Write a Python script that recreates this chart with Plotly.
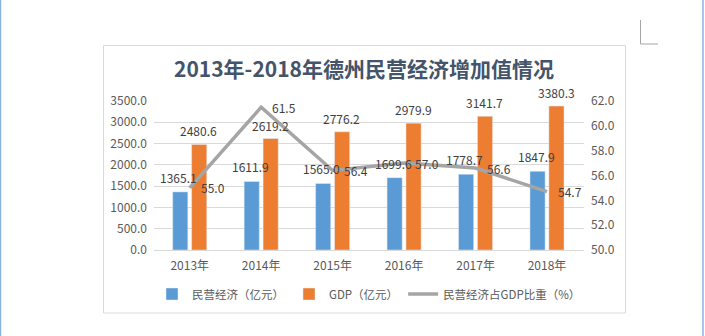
import plotly.graph_objects as go

categories = ["2013年", "2014年", "2015年", "2016年", "2017年", "2018年"]
private_econ = [1365.1, 1611.9, 1565.0, 1699.6, 1778.7, 1847.9]
gdp = [2480.6, 2619.2, 2776.2, 2979.9, 3141.7, 3380.3]
share = [55.0, 61.5, 56.4, 57.0, 56.6, 54.7]

names = ["民营经济（亿元）", "GDP（亿元）", "民营经济占GDP比重（%）"]
title_text = "2013年-2018年德州民营经济增加值情况"

FIG_W, FIG_H = 705, 336
L, R, T, B = 154, 584, 101, 250
PW, PH = R - L, B - T


def px(x):
    return (x - L) / PW


def py(y):
    return (B - y) / PH


FONT = "Noto Sans CJK SC"
TXT = "#404040"
AX = "#595959"

fig = go.Figure()
fig.add_trace(go.Bar(
    x=categories, y=private_econ, name=names[0],
    marker=dict(color="#5B9BD5"),
))
fig.add_trace(go.Bar(
    x=categories, y=gdp, name=names[1],
    marker=dict(color="#ED7D31"),
))
fig.add_trace(go.Scatter(
    x=categories, y=share, name=names[2], yaxis="y2",
    mode="lines",
    line=dict(color="#A5A5A5", width=3.5),
    cliponaxis=False,
))

# data labels drawn on top of all marks
annotations = []
label_font = dict(family=FONT, size=12, color=TXT)
for c, v in zip(categories, private_econ):
    annotations.append(dict(x=c, y=v, xref="x", yref="y", text=f"{v:.1f}",
                            showarrow=False, xanchor="center", yanchor="bottom",
                            xshift=-11, yshift=4, font=label_font))
for c, v in zip(categories, gdp):
    annotations.append(dict(x=c, y=v, xref="x", yref="y", text=f"{v:.1f}",
                            showarrow=False, xanchor="center", yanchor="bottom",
                            xshift=9, yshift=3, font=label_font))
for c, v in zip(categories, share):
    annotations.append(dict(x=c, y=v, xref="x", yref="y2", text=f"{v:.1f}",
                            showarrow=False, xanchor="left", yanchor="middle",
                            xshift=9, yshift=0, font=label_font))

shapes = [
    # chart box
    dict(type="rect", xref="paper", yref="paper",
         x0=px(103.5), x1=px(625.5), y0=py(313), y1=py(45.5),
         line=dict(color="#D9D9D9", width=1), layer="below"),
    # page borders
    dict(type="line", xref="paper", yref="paper",
         x0=px(0.5), x1=px(0.5), y0=py(0), y1=py(336),
         line=dict(color="#8DB3E2", width=1.5)),
    dict(type="line", xref="paper", yref="paper",
         x0=px(703), x1=px(703), y0=py(0), y1=py(336),
         line=dict(color="#8DB3E2", width=1.5)),
    # corner mark
    dict(type="line", xref="paper", yref="paper",
         x0=px(640.5), x1=px(640.5), y0=py(20), y1=py(44),
         line=dict(color="#A6A6A6", width=1)),
    dict(type="line", xref="paper", yref="paper",
         x0=px(640.5), x1=px(658), y0=py(44), y1=py(44),
         line=dict(color="#A6A6A6", width=1)),
]

fig.update_layout(
    width=FIG_W, height=FIG_H,
    margin=dict(l=L, r=FIG_W - R, t=T, b=FIG_H - B, pad=0),
    paper_bgcolor="white", plot_bgcolor="white",
    font=dict(family=FONT, size=12, color=AX),
    title=dict(text="<b>" + title_text + "</b>",
               x=px(364), xref="paper", xanchor="center",
               y=1 - 70 / FIG_H, yanchor="middle",
               font=dict(family=FONT, size=21, color="#44546A")),
    barmode="group", bargap=0.47, bargroupgap=0.2,
    showlegend=True,
    legend=dict(orientation="h", x=px(152), xanchor="left",
                y=py(294), yanchor="middle",
                font=dict(family=FONT, size=11.5, color=AX),
                itemwidth=30, tracegroupgap=0),
    xaxis=dict(showgrid=False, showline=False, ticks="",
               ticklabelstandoff=7,
               tickfont=dict(family=FONT, size=12, color=AX)),
    yaxis=dict(range=[0, 3500], dtick=500, tickformat=".1f",
               showgrid=True, gridcolor="#D9D9D9", gridwidth=1,
               zeroline=True, zerolinecolor="#D9D9D9", zerolinewidth=1,
               ticks="", ticklabelstandoff=6,
               tickfont=dict(family=FONT, size=12, color=AX)),
    yaxis2=dict(range=[50, 62], dtick=2, tickformat=".1f",
                overlaying="y", side="right", showgrid=False,
                zeroline=False, ticks="", ticklabelstandoff=6,
                tickfont=dict(family=FONT, size=12, color=AX)),
    shapes=shapes,
    annotations=annotations,
)

fig.write_html("out.html")
